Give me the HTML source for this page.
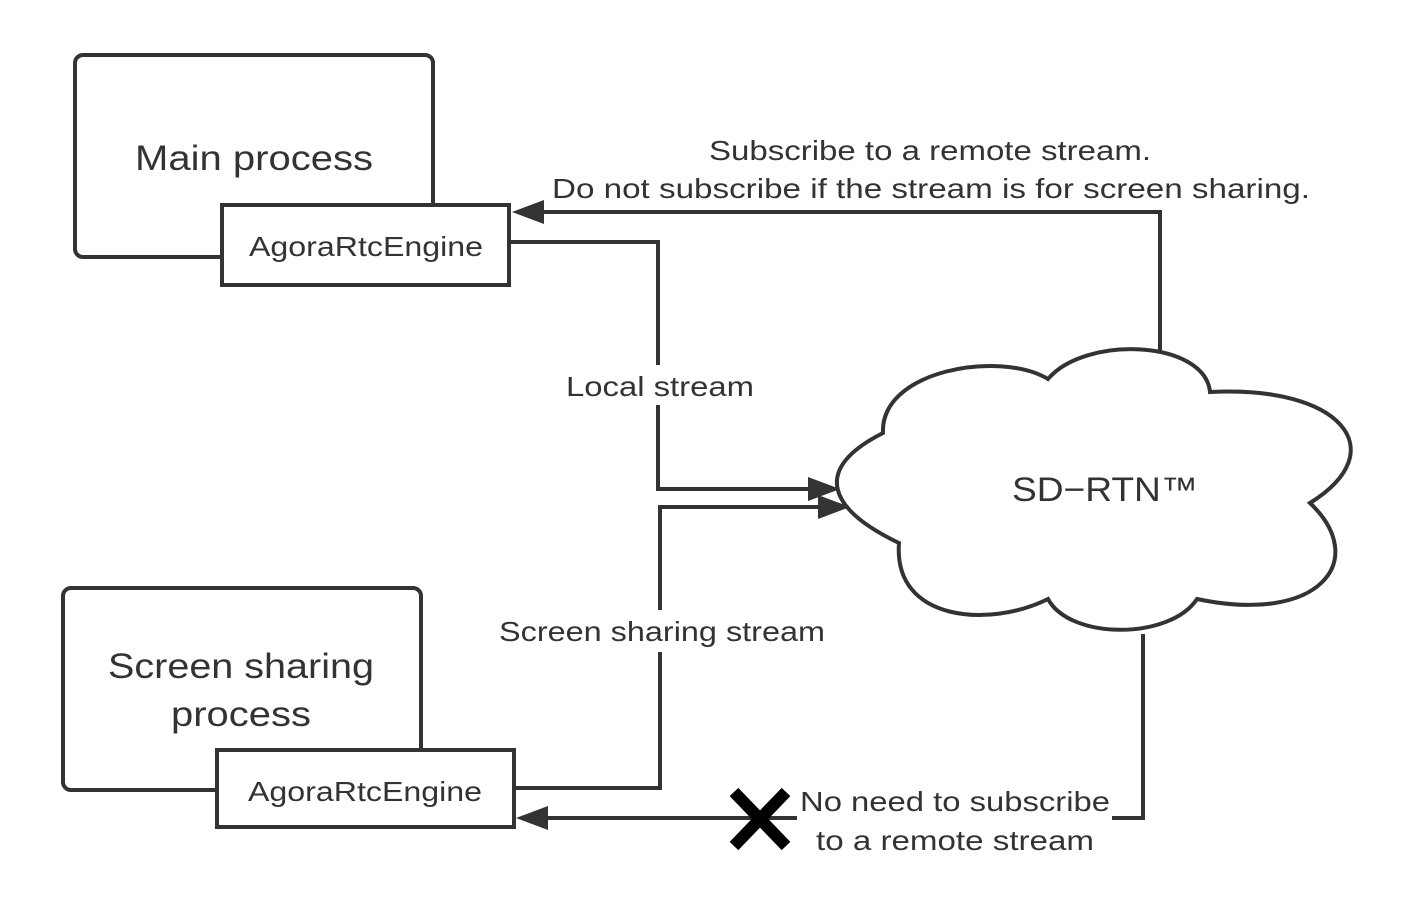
<!DOCTYPE html>
<html><head><meta charset="utf-8"><style>
html,body{margin:0;padding:0;background:#fff;}
svg{display:block;}
text{font-family:"Liberation Sans",sans-serif;fill:#333;}
</style></head><body>
<svg width="1428" height="910" viewBox="0 0 1428 910" xmlns="http://www.w3.org/2000/svg">
<g fill="none" stroke="#333" stroke-width="4" stroke-linejoin="miter">
  <rect x="75" y="55" width="358" height="202" rx="8"/>
  <rect x="222" y="205" width="287" height="80" fill="#fff"/>
  <rect x="63" y="588" width="358" height="202" rx="8"/>
  <rect x="217" y="750" width="297" height="77" fill="#fff"/>
  <polyline points="510,242 658,242 658,489 810,489"/>
  <polyline points="514,788 660,788 660,507 820,507"/>
  <polyline points="1160,354 1160,212 540,212"/>
  <polyline points="1143,634 1143,818 1112,818"/>
  <line x1="797" y1="818" x2="542" y2="818"/>
  <path fill="#fff" d="M883,433 C880,370 1000,350 1048,379 C1085,335 1205,340 1210,392 C1340,385 1395,450 1310,503 C1370,560 1320,625 1197,599 C1170,640 1070,640 1048,599 C990,628 893,622 899,543 C830,510 810,470 883,433 Z"/>
</g>
<g fill="#333">
  <polygon points="840,489 808,477 808,501"/>
  <polygon points="850,507 818,495 818,519"/>
  <polygon points="512,212 544,200 544,224"/>
  <polygon points="516,818 548,806 548,830"/>
</g>
<rect x="560" y="365" width="200" height="40" fill="#fff"/>
<rect x="495" y="610" width="335" height="42" fill="#fff"/>
<g stroke="#000" stroke-width="12" stroke-linecap="butt">
  <line x1="734" y1="792" x2="786" y2="846"/>
  <line x1="786" y1="792" x2="734" y2="846"/>
</g>
<text x="254" y="170" font-size="35" text-anchor="middle" textLength="238" lengthAdjust="spacingAndGlyphs">Main process</text>
<text x="366" y="256" font-size="28" text-anchor="middle" textLength="234" lengthAdjust="spacingAndGlyphs">AgoraRtcEngine</text>
<text x="241" y="678" font-size="35" text-anchor="middle" textLength="266" lengthAdjust="spacingAndGlyphs">Screen sharing</text>
<text x="241" y="726" font-size="35" text-anchor="middle" textLength="140" lengthAdjust="spacingAndGlyphs">process</text>
<text x="365" y="801" font-size="28" text-anchor="middle" textLength="234" lengthAdjust="spacingAndGlyphs">AgoraRtcEngine</text>
<text x="660" y="396" font-size="28" text-anchor="middle" textLength="188" lengthAdjust="spacingAndGlyphs">Local stream</text>
<text x="662" y="641" font-size="28" text-anchor="middle" textLength="326" lengthAdjust="spacingAndGlyphs">Screen sharing stream</text>
<text x="930" y="160" font-size="28" text-anchor="middle" textLength="442" lengthAdjust="spacingAndGlyphs">Subscribe to a remote stream.</text>
<text x="931" y="198" font-size="28" text-anchor="middle" textLength="758" lengthAdjust="spacingAndGlyphs">Do not subscribe if the stream is for screen sharing.</text>
<text x="1105" y="501" font-size="34" text-anchor="middle" textLength="186" lengthAdjust="spacingAndGlyphs">SD−RTN™</text>
<text x="955" y="811" font-size="28" text-anchor="middle" textLength="310" lengthAdjust="spacingAndGlyphs">No need to subscribe</text>
<text x="955" y="850" font-size="28" text-anchor="middle" textLength="278" lengthAdjust="spacingAndGlyphs">to a remote stream</text>
</svg>
</body></html>
